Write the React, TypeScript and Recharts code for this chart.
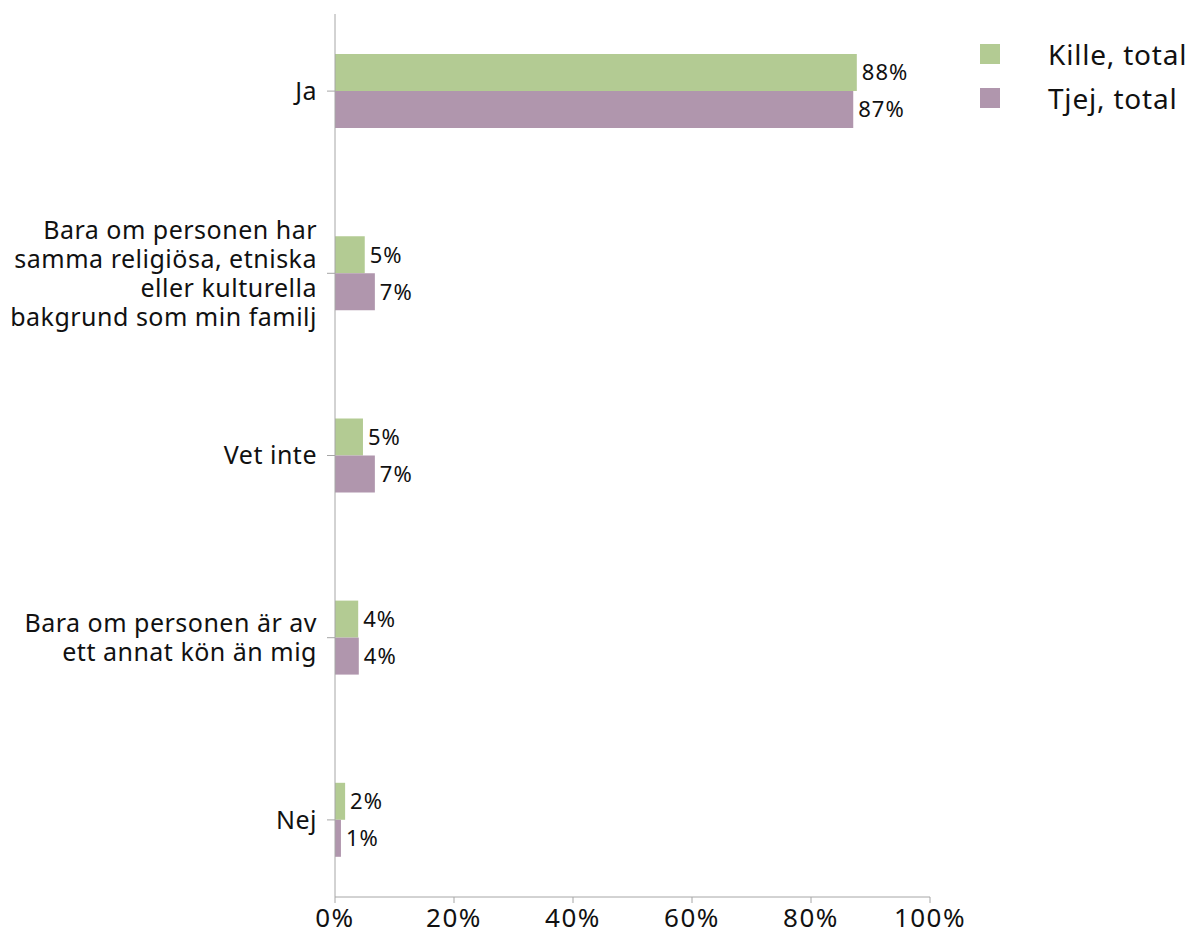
import React from 'react';
import { BarChart, Bar, XAxis, YAxis, LabelList } from 'recharts';

const categories = [
  'Ja',
  'Bara om personen har\nsamma religiösa, etniska\neller kulturella\nbakgrund som min familj',
  'Vet inte',
  'Bara om personen är av\nett annat kön än mig',
  'Nej',
];
const killeValues = [87.7, 5.0, 4.7, 3.9, 1.7];
const tjejValues = [87.1, 6.7, 6.7, 4.0, 1.0];
const xTicks = [0, 20, 40, 60, 80, 100];
const seriesNames = ['Kille, total', 'Tjej, total'];

const GREEN = '#b3cb93';
const PURPLE = '#b096ad';
const AXIS = '#a6a6a6';
const FONT = '"Noto Sans", sans-serif';

const data = categories.map((c, i) => ({ name: c, kille: killeValues[i], tjej: tjejValues[i] }));

const CategoryTick = (props: any) => {
  const { x, y, payload } = props;
  const lines = String(payload.value).split('\n');
  const lh = 29;
  const start = y - ((lines.length - 1) * lh) / 2;
  return (
    <g>
      {lines.map((l: string, i: number) => (
        <text key={i} x={x - 8} y={start + i * lh} dy="0.35em" textAnchor="end" fontSize={25}
          letterSpacing={0.5} fill="#111" fontFamily={FONT}>{l}</text>
      ))}
    </g>
  );
};

const fmt = (v: any) => `${Math.round(Number(v))}%`;
const labelStyle = { fontSize: 22, fill: '#111', fontFamily: FONT, letterSpacing: 1 };

export default function App() {
  return (
    <div style={{ position: 'absolute', left: 0, top: 0, width: 1191, height: 935, background: '#fff' }}>
      <BarChart
        width={1191}
        height={935}
        data={data}
        layout="vertical"
        margin={{ top: 14, right: 261, bottom: 0, left: 0 }}
        barGap={0}
        barSize={37}
      >
        <XAxis
          type="number"
          domain={[0, 100]}
          ticks={xTicks}
          tickFormatter={(v) => `${v}%`}
          height={38}
          stroke={AXIS}
          tickSize={6}
          tick={{ fontSize: 26, fill: '#111', fontFamily: FONT, letterSpacing: 1.5 }}
          tickMargin={6}
        />
        <YAxis
          type="category"
          dataKey="name"
          width={335}
          stroke={AXIS}
          tickSize={8}
          padding={{ top: -14, bottom: -14 }}
          tick={<CategoryTick />}
          interval={0}
        />
        <Bar dataKey="kille" name={seriesNames[0]} fill={GREEN} isAnimationActive={false}>
          <LabelList dataKey="kille" position="right" offset={5} formatter={fmt} style={labelStyle} />
        </Bar>
        <Bar dataKey="tjej" name={seriesNames[1]} fill={PURPLE} isAnimationActive={false}>
          <LabelList dataKey="tjej" position="right" offset={5} formatter={fmt} style={labelStyle} />
        </Bar>
      </BarChart>
      <div style={{ position: 'absolute', left: 980, top: 32, fontFamily: FONT }}>
        {[GREEN, PURPLE].map((c, i) => (
          <div key={i} style={{ display: 'flex', alignItems: 'center', height: 44 }}>
            <div style={{ width: 20, height: 20, background: c }} />
            <span style={{ marginLeft: 48, fontSize: 28, letterSpacing: 0.8, color: '#111', whiteSpace: 'nowrap' }}>{seriesNames[i]}</span>
          </div>
        ))}
      </div>
    </div>
  );
}
